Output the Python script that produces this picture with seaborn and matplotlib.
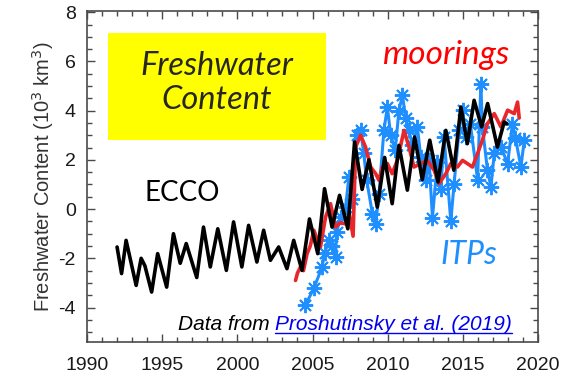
import matplotlib
matplotlib.use("Agg")
import matplotlib.pyplot as plt
from matplotlib.patches import Rectangle
from matplotlib.lines import Line2D
from matplotlib.ticker import MultipleLocator
import seaborn as sns
import pandas as pd

# ECCO model estimate (10^3 km^3)
ecco_year = [1992.0, 1992.3, 1992.6, 1993.27, 1993.6, 1993.85, 1994.3, 1994.7,
             1995.3, 1995.75, 1996.2, 1996.6, 1997.3, 1997.75, 1998.2, 1998.7,
             1999.27, 1999.75, 2000.3, 2000.75, 2001.3, 2001.75, 2002.2, 2002.75,
             2003.3, 2003.75, 2004.3, 2004.8, 2005.35, 2005.8, 2006.3, 2006.8,
             2007.35, 2007.8, 2008.3, 2008.75, 2009.31, 2009.8, 2010.3, 2010.75,
             2011.31, 2011.8, 2012.3, 2012.8, 2013.35, 2013.87, 2014.4, 2014.87,
             2015.3, 2015.75, 2016.25, 2016.65, 2017.3, 2017.75, 2017.93]
ecco_fwc = [-1.54, -2.62, -1.27, -3.1, -2.0, -2.3, -3.37, -1.81,
            -3.17, -1.0, -2.2, -1.4, -2.78, -0.73, -2.35, -0.8,
            -2.49, -0.52, -2.35, -0.66, -2.15, -0.86, -2.08, -1.54,
            -2.42, -1.27, -2.49, -0.4, -1.81, 0.83, -0.73, 0.56,
            -0.8, 2.73, 0.8, 2.0, 0.08, 2.1, 0.22, 2.59,
            0.77, 2.93, 1.2, 2.8, 1.1, 3.2, 1.58, 4.15,
            2.66, 4.42, 3.34, 4.29, 2.52, 3.54, 3.47]

# Mooring-based estimate
moor_year = [2003.87, 2004.0, 2004.2, 2004.4, 2004.64, 2004.85, 2005.09, 2005.3,
             2005.53, 2005.87, 2006.2, 2006.53, 2006.85, 2007.2, 2007.45, 2007.7,
             2007.87, 2008.2, 2008.53, 2008.87, 2009.2, 2009.42, 2009.64, 2009.98,
             2010.3, 2010.64, 2011.09, 2011.42, 2011.75, 2012.2, 2012.64, 2013.09,
             2013.42, 2013.87, 2014.2, 2014.64, 2014.98, 2015.3, 2015.64, 2015.98,
             2016.3, 2016.64, 2017.09, 2017.53, 2017.98, 2018.42, 2018.64, 2018.75]
moor_fwc = [-2.9, -2.6, -2.35, -2.5, -1.81, -1.5, -0.86, -1.2,
            -1.54, -0.32, 0.22, -0.73, -0.55, -0.6, -0.2, -1.1,
            2.52, 3.0, 2.52, 1.71, 1.44, 1.17, 1.71, 1.85,
            1.44, 1.98, 3.2, 2.52, 1.71, 1.85, 1.98, 1.58,
            1.04, 1.44, 1.85, 1.71, 1.98, 1.85, 1.71, 2.26,
            2.8, 3.47, 3.88, 3.34, 4.02, 3.88, 4.35, 3.7]

# Ice-Tethered Profiler estimate
itp_year = [2004.53, 2005.1, 2005.64, 2005.8, 2006.09, 2006.3, 2006.53, 2006.6,
            2006.87, 2007.2, 2007.42, 2007.6, 2007.95, 2008.2, 2008.4, 2008.6,
            2008.98, 2009.2, 2009.42, 2009.75, 2009.98, 2010.2, 2010.5, 2010.75,
            2010.98, 2011.2, 2011.42, 2011.64, 2011.98, 2012.2, 2012.53, 2012.75,
            2012.98, 2013.3, 2013.53, 2013.75, 2014.2, 2014.42, 2014.75, 2014.98,
            2015.2, 2015.5, 2015.98, 2016.2, 2016.3, 2016.64, 2016.87, 2017.09,
            2017.53, 2017.98, 2018.3, 2018.5, 2018.86, 2019.09]
itp_fwc = [-3.9, -3.2, -2.35, -1.8, -1.27, -1.5, -1.95, -0.95,
           -0.32, 0.08, 1.3, 0.4, 3.0, 3.2, 2.3, 1.2,
           -0.18, -0.59, 0.6, 3.2, 4.15, 3.0, 2.4, 4.0,
           4.63, 3.7, 3.2, 2.6, 3.34, 2.1, 1.17, 2.0,
           -0.35, 1.9, 0.8, 2.93, -0.5, 1.04, 3.2, 4.02,
           2.93, 3.47, 1.2, 5.1, 3.34, 1.58, 0.9, 2.26,
           2.53, 1.85, 3.47, 2.9, 1.71, 2.8]

x_ticks = [1990, 1995, 2000, 2005, 2010, 2015, 2020]
y_ticks = [-4, -2, 0, 2, 4, 6, 8]

BLUE = "#1f8fff"
RED = "#e8262b"
SPINE = "#4a4a4a"

sns.set_theme(style="ticks")
plt.rcParams["font.family"] = ["Liberation Sans", "DejaVu Sans"]

fig = plt.figure(figsize=(5.85, 3.73), dpi=100)
ax = fig.add_axes([87 / 585, 1 - 342 / 373, 451 / 585, 331 / 373])

itp = pd.DataFrame({"year": itp_year, "fwc": itp_fwc})
moor = pd.DataFrame({"year": moor_year, "fwc": moor_fwc})
ecco = pd.DataFrame({"year": ecco_year, "fwc": ecco_fwc})

sns.lineplot(data=itp, x="year", y="fwc", ax=ax, color=BLUE, lw=2.2,
             marker=(8, 2, 0), markersize=11, markeredgecolor=BLUE,
             markeredgewidth=1.4, zorder=2)
sns.lineplot(data=moor, x="year", y="fwc", ax=ax, color=RED, lw=2.6, zorder=3)
sns.lineplot(data=ecco, x="year", y="fwc", ax=ax, color="black", lw=2.6, zorder=4)

ax.set_xlim(1990, 2020)
ax.set_ylim(-5.4, 8.05)
ax.set_xticks(x_ticks)
ax.set_yticks(y_ticks)
ax.set_xticklabels([str(v) for v in x_ticks])
ax.set_yticklabels([str(v) for v in y_ticks])
ax.xaxis.set_minor_locator(MultipleLocator(1))
ax.yaxis.set_minor_locator(MultipleLocator(0.5))
ax.tick_params(which="both", direction="in", top=True, right=True,
               color=SPINE, width=1.0)
ax.tick_params(which="major", length=6, labelsize=14, labelcolor="#1a1a1a", pad=8)
ax.tick_params(axis="x", which="major", pad=11)
ax.tick_params(which="minor", length=3.5)
for s in ax.spines.values():
    s.set_color(SPINE)
    s.set_linewidth(1.2)
    s.set_visible(True)

ax.set_xlabel("")
ax.set_ylabel("Freshwater Content (10$^3$ km$^3$)", fontsize=14.5,
              color="#333333", labelpad=2)

# title box
ax.add_patch(Rectangle((21 / 451, 202 / 331), 218 / 451, 107 / 331,
                       transform=ax.transAxes, facecolor="#ffff00",
                       edgecolor="none", zorder=1))
ax.text(130 / 451, 259 / 331, "Freshwater\nContent", transform=ax.transAxes,
        ha="center", va="center", fontsize=23.5, style="italic",
        family=["Lato", "DejaVu Sans"], linespacing=1.15, zorder=5)

ax.text(359 / 451, 287 / 331, "moorings", transform=ax.transAxes, ha="center",
        va="center", fontsize=24, style="italic", color="#ff0000",
        family=["Lato", "DejaVu Sans"], zorder=5)
ax.text(95 / 451, 149 / 331, "ECCO", transform=ax.transAxes, ha="center",
        va="center", fontsize=20, color="black",
        family=["Lato", "DejaVu Sans"], zorder=5)
ax.text(382 / 451, 87 / 331, "ITPs", transform=ax.transAxes, ha="center",
        va="center", fontsize=23, style="italic", color=BLUE,
        family=["Lato", "DejaVu Sans"], zorder=5)

src = ax.text(91 / 451, 17 / 331, "Data from ", transform=ax.transAxes,
              ha="left", va="center", fontsize=15, style="italic",
              color="black", zorder=5)
link = ax.annotate("Proshutinsky et al. (2019)", xy=(1, 0.5), xycoords=src,
                   ha="left", va="center", fontsize=15, style="italic",
                   color="#0000ee", zorder=5)

fig.canvas.draw()
bb = link.get_window_extent()
W, H = fig.bbox.width, fig.bbox.height
fig.add_artist(Line2D([bb.x0 / W, bb.x1 / W], [(bb.y0 + 1.5) / H] * 2,
                      transform=fig.transFigure, color="#0000ee", lw=1.0))

fig.savefig("out.png", dpi=100, facecolor="white")
